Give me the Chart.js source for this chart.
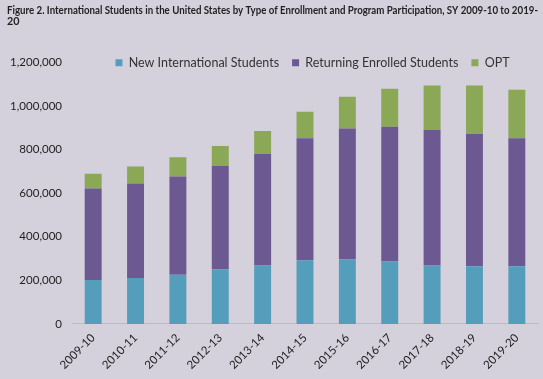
<!DOCTYPE html>
<html>
<head>
<meta charset="utf-8">
<script src="https://cdn.jsdelivr.net/npm/chart.js@4/dist/chart.umd.min.js"></script>
<style>
  html, body { margin: 0; padding: 0; background: #D4D1DD; }
  #wrap { width: 543px; height: 379px; position: relative; }
</style>
</head>
<body>
<div id="wrap"><canvas id="c" width="543" height="379"></canvas></div>
<script>
const categories = ["2009-10","2010-11","2011-12","2012-13","2013-14","2014-15","2015-16","2016-17","2017-18","2018-19","2019-20"];
const newStudents = [202000, 211000, 226000, 251000, 268000, 292000, 297000, 286000, 268000, 265000, 265000];
const returningStudents = [420000, 434000, 451000, 475000, 512000, 560000, 600000, 619000, 623000, 607000, 587000];
const optStudents = [67000, 78000, 88000, 91000, 105000, 122000, 146000, 174000, 203000, 222000, 223000];
const titleLines = ["Figure 2. International Students in the United States by Type of Enrollment and Program Participation, SY 2009-10 to 2019-", "20"];
const seriesNames = ["New International Students", "Returning Enrolled Students", "OPT"];

const LEGEND_OVERLAP = 16.5;
const LEGEND_SHIFT = 40;
const legendPlace = {
  id: 'legendPlace',
  beforeInit(chart) {
    const lg = chart.legend;
    if (!lg) return;
    const fit = lg.fit;
    lg.fit = function () { fit.call(this); this.height -= LEGEND_OVERLAP; };
  },
  afterLayout(chart) {
    const lg = chart.legend;
    if (!lg) return;
    lg.bottom += LEGEND_OVERLAP;
    lg.left += LEGEND_SHIFT;
    lg.right += LEGEND_SHIFT;
  }
};

new Chart(document.getElementById('c'), {
  type: 'bar',
  data: {
    labels: categories,
    datasets: [
      { label: seriesNames[0], data: newStudents, backgroundColor: '#549EBC' },
      { label: seriesNames[1], data: returningStudents, backgroundColor: '#6C5991' },
      { label: seriesNames[2], data: optStudents, backgroundColor: '#8AA855' }
    ]
  },
  options: {
    responsive: false,
    animation: false,
    devicePixelRatio: 1,
    layout: { padding: { top: 5, left: 7, right: 5, bottom: 0 } },
    datasets: { bar: { barPercentage: 0.4, categoryPercentage: 1 } },
    plugins: {
      title: {
        display: true,
        text: titleLines,
        align: 'start',
        color: '#222',
        font: { family: 'Lato', size: 10.75, weight: 'bold', lineHeight: 1.0 },
        padding: { top: 0, bottom: 17 }
      },
      legend: {
        display: true,
        position: 'top',
        labels: {
          boxWidth: 7, boxHeight: 7, padding: 13,
          color: '#333',
          font: { family: 'Lato', size: 12.5 }
        }
      },
      tooltip: { enabled: false }
    },
    scales: {
      x: {
        stacked: true,
        grid: { display: false, drawTicks: false },
        border: { display: true, color: '#BDB9C8', width: 1 },
        ticks: {
          autoSkip: false, maxRotation: 45, minRotation: 45, padding: 7,
          color: '#222', font: { family: 'Lato', size: 11.5 }
        }
      },
      y: {
        stacked: true,
        min: 0, max: 1200000,
        grid: { display: false, drawTicks: false },
        border: { display: false },
        afterFit: s => { s.width = 65; },
        ticks: {
          stepSize: 200000, padding: 10,
          color: '#222', font: { family: 'Lato', size: 11.5 },
          callback: v => v.toLocaleString('en-US')
        }
      }
    }
  },
  plugins: [legendPlace]
});
</script>
</body>
</html>
